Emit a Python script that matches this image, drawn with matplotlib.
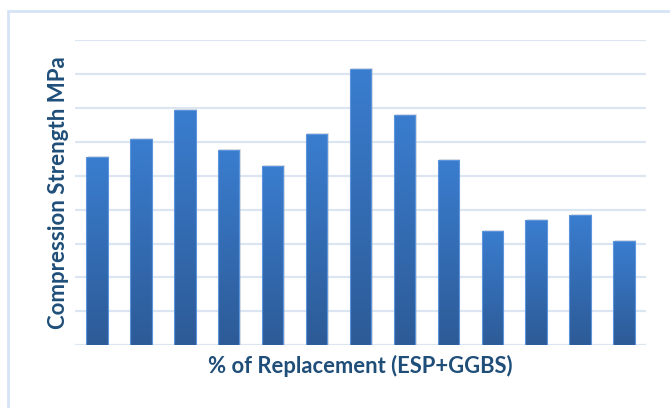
import numpy as np
import matplotlib
matplotlib.use("Agg")
import matplotlib.pyplot as plt
from matplotlib.patches import Rectangle
from matplotlib.colors import LinearSegmentedColormap

# mixes (tick labels are not shown in the source chart)
mixes = ["M1", "M2", "M3", "M4", "M5", "M6", "M7", "M8", "M9", "M10", "M11", "M12", "M13"]
strength = [27.7, 30.4, 34.7, 28.8, 26.4, 31.1, 40.7, 33.9, 27.3, 16.9, 18.4, 19.2, 15.3]
y_ticks = [0, 5, 10, 15, 20, 25, 30, 35, 40, 45]

plt.rcParams['font.family'] = ['Lato', 'DejaVu Sans']

fig = plt.figure(figsize=(6.7, 4.08), dpi=100)
ax = fig.add_axes([75 / 670, 62.7 / 408, 571 / 670, 305.3 / 408])

x = np.arange(len(mixes))
bars = ax.bar(x, strength, width=0.49, color='none', edgecolor='none', zorder=3)

# vertical gradient inside each bar, light on top, darker at the base
grad = LinearSegmentedColormap.from_list('blu', ['#2d5b97', '#3a7dcf'])
g = np.linspace(0, 1, 100).reshape(-1, 1)
for b in bars:
    x0, w, h = b.get_x(), b.get_width(), b.get_height()
    # soft shadow
    ax.add_patch(Rectangle((x0 + 0.03, 0), w, h + 0.15, color='#9aa6b8', alpha=0.35,
                           zorder=2, lw=0))
    im = ax.imshow(g, cmap=grad, origin='lower', aspect='auto',
                   extent=(x0, x0 + w, 0, h), zorder=3)
    im.set_clip_path(b)
    ax.add_patch(Rectangle((x0, 0), w, h, fill=False, edgecolor='#5d95dc',
                           lw=0.8, zorder=4))

ax.set_xlim(-0.5, len(mixes) - 0.5)
ax.set_ylim(0, 45)
ax.set_yticks(y_ticks)
ax.yaxis.grid(True, color='#dce6f3', lw=1.6, zorder=0)
ax.set_axisbelow(True)
ax.tick_params(left=False, bottom=False, labelleft=False, labelbottom=False)
for s in ax.spines.values():
    s.set_visible(False)

ax.set_ylabel('Compression Strength MPa', fontsize=16, fontweight='bold',
              color='#1f4e79', labelpad=4)
ax.set_xlabel('% of Replacement (ESP+GGBS)', fontsize=15.8, fontweight='bold',
              color='#1f4e79', labelpad=7)

# light outer chart frame
fig.patches.append(Rectangle((8 / 670, -0.1), 1.2, (408 - 11) / 408 + 0.1,
                             transform=fig.transFigure, fill=False,
                             edgecolor='#d6e3f4', lw=2, figure=fig))

fig.savefig('out.png', dpi=100)
